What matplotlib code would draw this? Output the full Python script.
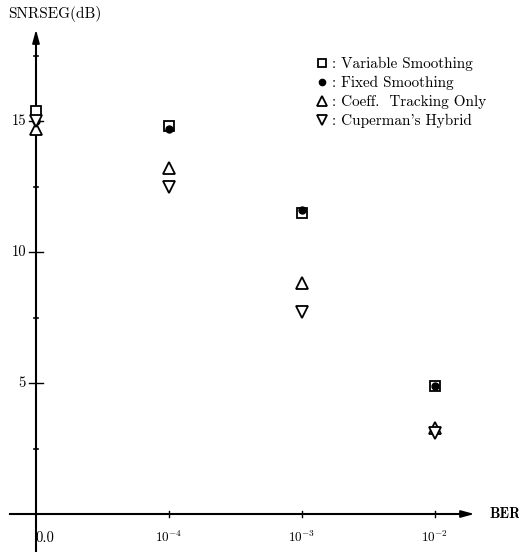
import matplotlib
matplotlib.use("Agg")
import matplotlib.pyplot as plt

plt.rcParams['mathtext.fontset'] = 'cm'
plt.rcParams['axes.unicode_minus'] = False
plt.rcParams['font.family'] = ['cmr10', 'DejaVu Serif']

# Data
ber_labels = ['0.0', r'$10^{-4}$', r'$10^{-3}$', r'$10^{-2}$']
x_pos = [0, 1, 2, 3]
variable_smoothing = [15.4, 14.8, 11.5, 4.9]
fixed_smoothing = [15.0, 14.7, 11.6, 4.9]
coeff_tracking = [14.7, 13.2, 8.8, 3.3]
cuperman_hybrid = [15.0, 12.5, 7.7, 3.1]
y_ticks = [5, 10, 15]
y_minor = [2.5, 7.5, 12.5, 17.5]

fig = plt.figure(figsize=(5.19, 5.52), dpi=100)
ax = fig.add_axes([0, 0, 1, 1])
W, H = 519, 552
x0px, xstep = 36, 133
y0px, ystep = 514, 26.2
ax.set_xlim(-x0px / xstep, (W - x0px) / xstep)
ax.set_ylim(-(H - y0px) / ystep, y0px / ystep)
ax.axis('off')

def px2x(p):
    return (p - x0px) / xstep

def px2y(p):
    return (y0px - p) / ystep

# axes lines
ax.plot([px2x(10), px2x(470)], [0, 0], color='black', lw=1.5, clip_on=False)
ax.plot([0, 0], [px2y(552), px2y(34)], color='black', lw=1.5, clip_on=False)
ax.annotate('', xy=(px2x(477), 0), xytext=(px2x(462), 0),
            arrowprops=dict(arrowstyle='-|>,head_length=0.8,head_width=0.22', color='black', lw=1.2))
ax.annotate('', xy=(0, px2y(27)), xytext=(0, px2y(42)),
            arrowprops=dict(arrowstyle='-|>,head_length=0.8,head_width=0.22', color='black', lw=1.2))

# y ticks
for v in y_ticks:
    ax.plot([px2x(29), px2x(43)], [v, v], color='black', lw=1.0)
    ax.text(px2x(26), v, str(v), ha='right', va='center', fontsize=10.5)
for v in y_minor:
    ax.plot([px2x(34), px2x(38)], [v, v], color='black', lw=1.2)
# x ticks
for xp, lab in zip(x_pos, ber_labels):
    if xp > 0:
        ax.plot([xp, xp], [px2y(511), px2y(517)], color='black', lw=1.0)
        ax.text(xp, px2y(537), lab, ha='center', va='center', fontsize=9.5)
    else:
        ax.text(px2x(35), px2y(538), lab, ha='left', va='center', fontsize=10.5)

ax.text(px2x(489), 0, 'BER', ha='left', va='center', fontsize=10.5, family='cmb10')
ax.text(px2x(8), px2y(14), 'SNRSEG(dB)', ha='left', va='center', fontsize=11)

h1, = ax.plot(x_pos, variable_smoothing, 's', ms=7, mfc='white', mec='black', mew=1.3, ls='none', clip_on=False)
h2, = ax.plot(x_pos, fixed_smoothing, 'o', ms=5, color='black', ls='none', clip_on=False)
h3, = ax.plot(x_pos, coeff_tracking, '^', ms=8.5, mfc='white', mec='black', mew=1.3, ls='none', clip_on=False)
h4, = ax.plot(x_pos, cuperman_hybrid, 'v', ms=8.5, mfc='white', mec='black', mew=1.3, ls='none', clip_on=False)

names = [': Variable Smoothing', ': Fixed Smoothing', ': Coeff.  Tracking Only', ": Cuperman's Hybrid"]
leg = ax.legend([h1, h2, h3, h4], names, loc='upper left',
                bbox_to_anchor=(316 / W, 1 - 57 / H), frameon=False,
                handlelength=0.8, handletextpad=0.25, labelspacing=0.32,
                fontsize=10.9, borderpad=0, borderaxespad=0, markerscale=0.9)

fig.savefig('out.png', dpi=100)
